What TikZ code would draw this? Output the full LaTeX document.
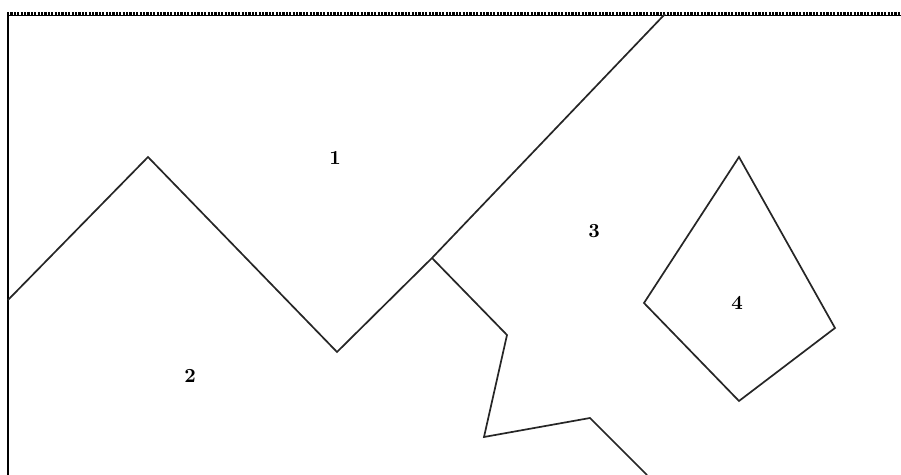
\documentclass[tikz,border=0pt]{standalone}
\begin{document}
\begin{tikzpicture}[x=0.5pt,y=-0.5pt,
  edge/.style={line width=0.85pt,draw=black!85},
  lbl/.style={font=\bfseries,inner sep=0pt}]
\useasboundingbox (0,0) rectangle (901,475);
\fill[white] (0,0) rectangle (901,475);
% frame
\draw[line width=2pt,dash pattern=on 1.1pt off 0.6pt] (7,14.5) -- (901,14.5);
\draw[line width=0.8pt] (7,15.5) -- (901,15.5);
\draw[line width=1.3pt] (8,14) -- (8,475);
% boundaries
\coordinate (a) at (8,300);
\coordinate (b) at (148,157);
\coordinate (c) at (337,352);
\coordinate (j) at (432,258);
\coordinate (t) at (665,14);
\coordinate (d) at (507,335);
\coordinate (e) at (484,437);
\coordinate (f) at (590,418);
\coordinate (g) at (647,475);
\draw[edge,line join=miter] (a) -- (b) -- (c) -- (j) -- (t);
\draw[edge] (j) -- (d) -- (e) -- (f) -- (g);
% quadrilateral 4
\coordinate (q1) at (739,157);
\coordinate (q2) at (835,328);
\coordinate (q3) at (739,401);
\coordinate (q4) at (644,303);
\draw[edge] (q1) -- (q2) -- (q3) -- (q4) -- cycle;
% labels
\node[lbl] (l1) at (335,158) {1};
\node[lbl] (l2) at (190,376) {2};
\node[lbl] (l3) at (594,231) {3};
\node[lbl] (l4) at (737,303) {4};
\end{tikzpicture}
\end{document}
